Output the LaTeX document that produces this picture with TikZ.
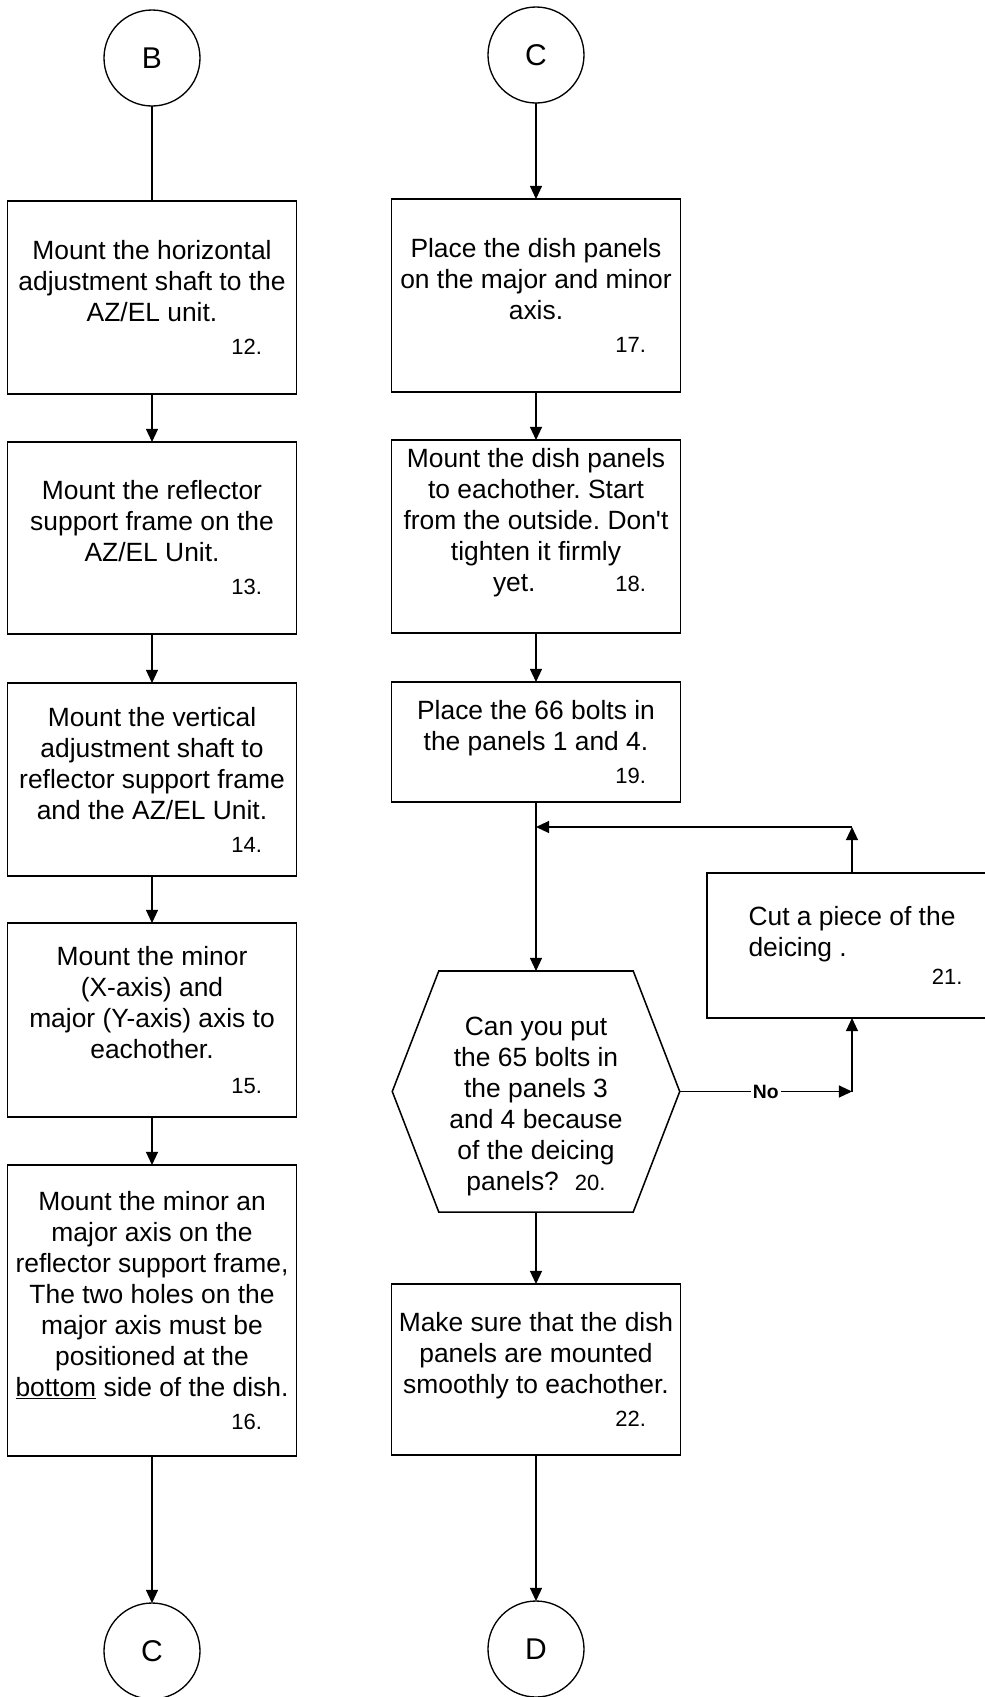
\documentclass[tikz,border=0pt]{standalone}
\usepackage{fontspec}
\setmainfont{Liberation Sans}
\usetikzlibrary{arrows.meta,calc}
\frenchspacing

% small font for the step numbers
\newcommand{\stepfont}{\fontsize{16.5}{19}\selectfont}
% step number whose right edge sits 110px right of the box centre
\newcommand{\stepno}[1]{\makebox[0pt][l]{\hspace*{82.5pt}\llap{\stepfont #1}}}

\begin{document}
\begin{tikzpicture}[
  x=0.75pt, y=-0.75pt,
  font=\fontsize{19.8}{23.25}\selectfont,
  every node/.style={outer sep=0pt},
  stepbox/.style={draw, rectangle, line width=1.15pt, minimum width=216.75pt,
    inner sep=2pt, align=center},
  decision/.style={rectangle, minimum width=215.6pt, minimum height=180.75pt,
    inner sep=0pt, align=center},
  joint/.style={draw, circle, line width=1pt, minimum size=72pt, inner sep=0pt,
    font=\fontsize{22.5}{26}\selectfont},
  link/.style={line width=1pt},
  flow/.style={link, -{Triangle[length=9.8pt,width=9pt]}},
  nolabel/.style={fill=white, inner sep=1.5pt, font=\fontsize{14.5}{17}\selectfont\bfseries}
]
\useasboundingbox (0,0) rectangle (985,1697);

% ---------- left column ----------
\node[joint] (B) at (152,58) {B};
\node[stepbox, minimum height=144.75pt] (s12) at (152,297.5)
  {Mount the horizontal\\adjustment shaft to the\\AZ/EL unit.\\[1.5pt]\stepno{12.}};
\node[stepbox, minimum height=144pt] (s13) at (152,538)
  {Mount the reflector\\support frame on the\\AZ/EL Unit.\\[1.5pt]\stepno{13.}};
\node[stepbox, minimum height=144.75pt] (s14) at (152,779.5)
  {Mount the vertical\\adjustment shaft to\\reflector support frame\\and the AZ/EL Unit.\\[1.5pt]\stepno{14.}};
\node[stepbox, minimum height=145.5pt] (s15) at (152,1020)
  {Mount the minor\\(X-axis) and\\major (Y-axis) axis to\\eachother.\\[3pt]\stepno{15.}};
\node[stepbox, minimum height=218.25pt] (s16) at (152,1310.5)
  {Mount the minor an\\major axis on the\\reflector support frame,\\The two holes on the\\major axis must be\\positioned at the\\\underline{bottom} side of the dish.\\[1.5pt]\stepno{16.}};
\node[joint] (Cb) at (152,1651) {C};

% ---------- right column ----------
\node[joint] (Ct) at (536,55) {C};
\node[stepbox, minimum height=144.75pt] (s17) at (536,295.5)
  {Place the dish panels\\on the major and minor\\axis.\\[1.5pt]\stepno{17.}};
\node[stepbox, minimum height=144.75pt] (s18) at (536,536.5)
  {Mount the dish panels\\to eachother. Start\\from the outside. Don\textquotesingle t\\tighten it firmly\\\makebox[0pt][l]{\hspace*{-32.25pt}yet.}\stepno{18.}\rule[-24.75pt]{0pt}{0pt}};
\node[stepbox, minimum height=90pt] (s19) at (536,742)
  {Place the 66 bolts in\\the panels 1 and 4.\\[1.5pt]\stepno{19.}};
\node[decision] (q20) at (536,1091.5)
  {\rule{0pt}{37pt}Can you put\\the 65 bolts in\\the panels 3\\and 4 because\\of the deicing\\panels?\hspace{12pt}{\stepfont 20.}};
\draw[line width=1.15pt]
  ($(q20.north west)+(46.5,0)$) -- ($(q20.north east)+(-46.5,0)$) -- (q20.east)
  -- ($(q20.south east)+(-46.5,0)$) -- ($(q20.south west)+(46.5,0)$) -- (q20.west) -- cycle;
\node[stepbox, align=left, minimum width=217.5pt, minimum height=108.75pt] (s21) at (852,945.5)
  {Cut a piece of the\\deicing .\\[-2.25pt]\makebox[0pt][l]{\hspace*{160.5pt}\llap{\stepfont 21.}}};
\node[stepbox, minimum height=128.25pt] (s22) at (536,1369.5)
  {Make sure that the dish\\panels are mounted\\smoothly to eachother.\\[1.5pt]\stepno{22.}};
\node[joint] (D) at (536,1649) {D};

% ---------- connectors ----------
\draw[link] (B) -- (s12);
\draw[flow] (s12) -- (s13);
\draw[flow] (s13) -- (s14);
\draw[flow] (s14) -- (s15);
\draw[flow] (s15) -- (s16);
\draw[flow] (s16) -- (Cb);

\draw[flow] (Ct) -- (s17);
\draw[flow] (s17) -- (s18);
\draw[flow] (s18) -- (s19);
\draw[flow] (s19) -- (q20);

% loop back from step 21
\coordinate (loopin) at (536,827);
\coordinate (loopup) at (s21.north |- loopin);
\draw[flow] (s21.north) -- (loopup);
\draw[flow] (loopup) -- (loopin);

% "No" branch into step 21
\coordinate (nobend) at (s21.south |- q20.east);
\draw[flow] (q20.east) -- node[nolabel] (nolbl) {No} (nobend);
\draw[flow] (nobend) -- (s21.south);

\draw[flow] (q20) -- (s22);
\draw[flow] (s22) -- (D);
\end{tikzpicture}
\end{document}
